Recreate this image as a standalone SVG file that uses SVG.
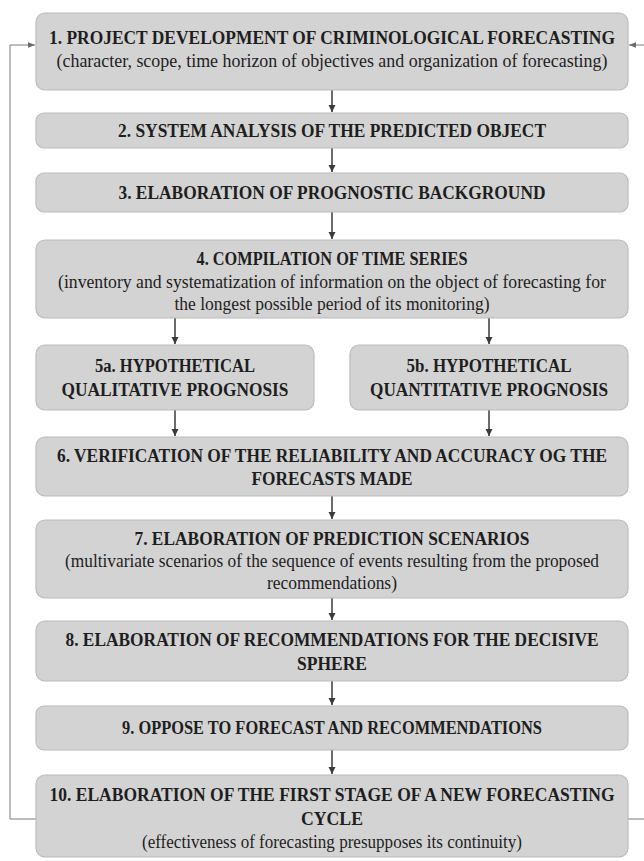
<svg xmlns="http://www.w3.org/2000/svg" width="644" height="861" viewBox="0 0 644 861">
<style>
.box{fill:#d3d3d3;stroke:#bcbcbc;stroke-width:1.2}
.t{font-family:"Liberation Serif","Times New Roman",Tinos,"DejaVu Serif",serif;font-size:18px;fill:#1e1e1e;text-anchor:middle}
.b{font-weight:bold}
.c{stroke:#3a3a3a;stroke-width:1.5;fill:none;marker-end:url(#ah)}
.f{stroke:#7a7a7a;stroke-width:1;fill:none}
.fa{stroke:#7a7a7a;stroke-width:1;fill:none;marker-end:url(#ahg)}
</style>
<defs>
<marker id="ah" viewBox="0 0 10 10" refX="10" refY="5" markerWidth="5" markerHeight="5" orient="auto" markerUnits="strokeWidth"><path d="M0,0 L10,5 L0,10 z" fill="#3a3a3a"/></marker>
<marker id="ahg" viewBox="0 0 10 10" refX="10" refY="5" markerWidth="7" markerHeight="7" orient="auto" markerUnits="strokeWidth"><path d="M0,1 L10,5 L0,9 z" fill="#6a6a6a"/></marker>
</defs>
<rect width="644" height="861" fill="#ffffff"/>
<g id="connectors">
<line class="c" x1="332" y1="90" x2="332" y2="112"/>
<line class="c" x1="332" y1="148" x2="332" y2="172"/>
<line class="c" x1="332" y1="212" x2="332" y2="239"/>
<line class="c" x1="175" y1="318" x2="175" y2="344"/>
<line class="c" x1="489" y1="318" x2="489" y2="344"/>
<line class="c" x1="175" y1="410" x2="175" y2="436"/>
<line class="c" x1="489" y1="410" x2="489" y2="436"/>
<line class="c" x1="332" y1="496" x2="332" y2="519"/>
<line class="c" x1="332" y1="598" x2="332" y2="620"/>
<line class="c" x1="332" y1="681" x2="332" y2="705"/>
<line class="c" x1="332" y1="750" x2="332" y2="774"/>
<polyline class="f" points="36,819 10,819 10,45"/>
<line class="fa" x1="10" y1="45" x2="35" y2="45"/>
<line class="f" x1="628" y1="819" x2="644" y2="819"/>
<line class="fa" x1="644" y1="45" x2="629" y2="45"/>
</g>
<g id="n1"><rect class="box" x="36" y="13" width="592" height="77" rx="9"/>
<text class="t b" x="332" y="44" textLength="566" lengthAdjust="spacingAndGlyphs">1. PROJECT DEVELOPMENT OF CRIMINOLOGICAL FORECASTING</text>
<text class="t" x="332" y="67" textLength="551" lengthAdjust="spacingAndGlyphs">(character, scope, time horizon of objectives and organization of forecasting)</text></g>
<g id="n2"><rect class="box" x="36" y="113" width="592" height="35" rx="8"/>
<text class="t b" x="332" y="137" textLength="428" lengthAdjust="spacingAndGlyphs">2. SYSTEM ANALYSIS OF THE PREDICTED OBJECT</text></g>
<g id="n3"><rect class="box" x="36" y="173" width="592" height="39" rx="8"/>
<text class="t b" x="332" y="199" textLength="427" lengthAdjust="spacingAndGlyphs">3. ELABORATION OF PROGNOSTIC BACKGROUND</text></g>
<g id="n4"><rect class="box" x="36" y="240" width="592" height="78" rx="9"/>
<text class="t b" x="332" y="265" textLength="271" lengthAdjust="spacingAndGlyphs">4. COMPILATION OF TIME SERIES</text>
<text class="t" x="332" y="288" textLength="548" lengthAdjust="spacingAndGlyphs">(inventory and systematization of information on the object of forecasting for</text>
<text class="t" x="332" y="310" textLength="315" lengthAdjust="spacingAndGlyphs">the longest possible period of its monitoring)</text></g>
<g id="n5a"><rect class="box" x="36" y="345" width="278" height="65" rx="9"/>
<text class="t b" x="175" y="372" textLength="160" lengthAdjust="spacingAndGlyphs">5a. HYPOTHETICAL</text>
<text class="t b" x="175" y="396" textLength="227" lengthAdjust="spacingAndGlyphs">QUALITATIVE PROGNOSIS</text></g>
<g id="n5b"><rect class="box" x="350" y="345" width="278" height="65" rx="9"/>
<text class="t b" x="489" y="372" textLength="165" lengthAdjust="spacingAndGlyphs">5b. HYPOTHETICAL</text>
<text class="t b" x="489" y="396" textLength="238" lengthAdjust="spacingAndGlyphs">QUANTITATIVE PROGNOSIS</text></g>
<g id="n6"><rect class="box" x="36" y="437" width="592" height="59" rx="9"/>
<text class="t b" x="332" y="462" textLength="550" lengthAdjust="spacingAndGlyphs">6. VERIFICATION OF THE RELIABILITY AND ACCURACY OG THE</text>
<text class="t b" x="332" y="485" textLength="161" lengthAdjust="spacingAndGlyphs">FORECASTS MADE</text></g>
<g id="n7"><rect class="box" x="36" y="520" width="592" height="78" rx="9"/>
<text class="t b" x="332" y="545" textLength="395" lengthAdjust="spacingAndGlyphs">7. ELABORATION OF PREDICTION SCENARIOS</text>
<text class="t" x="332" y="567" textLength="534" lengthAdjust="spacingAndGlyphs">(multivariate scenarios of the sequence of events resulting from the proposed</text>
<text class="t" x="332" y="589" textLength="130" lengthAdjust="spacingAndGlyphs">recommendations)</text></g>
<g id="n8"><rect class="box" x="36" y="621" width="592" height="60" rx="9"/>
<text class="t b" x="332" y="646" textLength="533" lengthAdjust="spacingAndGlyphs">8. ELABORATION OF RECOMMENDATIONS FOR THE DECISIVE</text>
<text class="t b" x="332" y="670" textLength="70" lengthAdjust="spacingAndGlyphs">SPHERE</text></g>
<g id="n9"><rect class="box" x="36" y="706" width="592" height="44" rx="8"/>
<text class="t b" x="332" y="734" textLength="420" lengthAdjust="spacingAndGlyphs">9. OPPOSE TO FORECAST AND RECOMMENDATIONS</text></g>
<g id="n10"><rect class="box" x="36" y="775" width="592" height="82" rx="9"/>
<text class="t b" x="332" y="801" textLength="565" lengthAdjust="spacingAndGlyphs">10. ELABORATION OF THE FIRST STAGE OF A NEW FORECASTING</text>
<text class="t b" x="332" y="825" textLength="62" lengthAdjust="spacingAndGlyphs">CYCLE</text>
<text class="t" x="332" y="848" textLength="380" lengthAdjust="spacingAndGlyphs">(effectiveness of forecasting presupposes its continuity)</text></g>
</svg>
